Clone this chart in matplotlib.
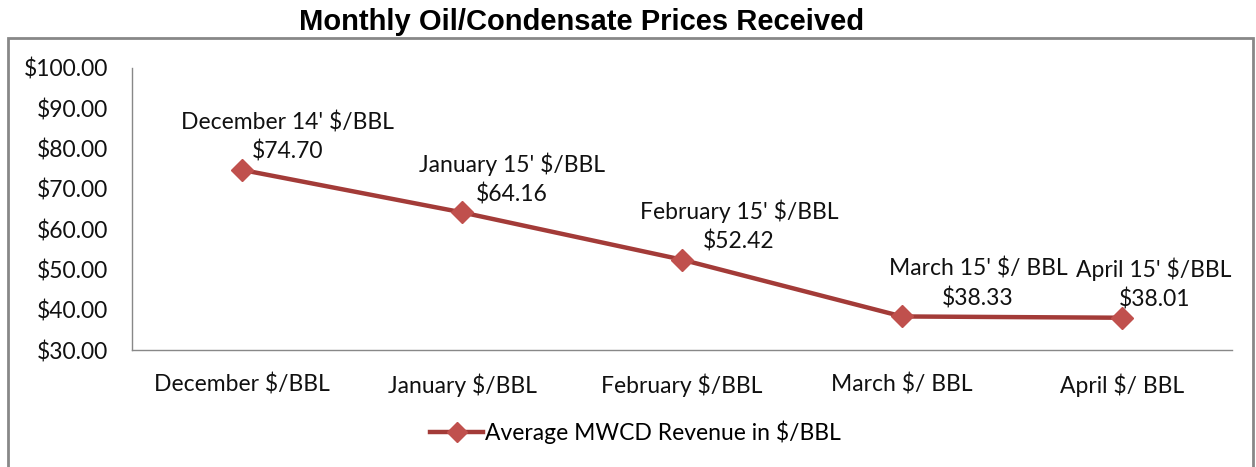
import numpy as np
import matplotlib.pyplot as plt
from matplotlib.patches import Rectangle

#%% Data
months      = ['December $/BBL', 'January $/BBL', 'February $/BBL', 'March $/ BBL', 'April $/ BBL']
point_names = ["December 14' $/BBL", "January 15' $/BBL", "February 15' $/BBL",
               "March 15' $/ BBL", "April 15' $/BBL"]
prices      = [74.70, 64.16, 52.42, 38.33, 38.01]

#### Label offsets (pixels)
label_dx    = [46, 50, 57, 76, 32]

plt.rcParams['font.family'] = ['Lato', 'DejaVu Sans']
FS = 16.5

fig = plt.figure(figsize=(12.56, 4.67), dpi=100)
ax  = fig.add_axes([0.105, 0.2505, 0.876, 0.604])

x = np.arange(len(prices))
ax.plot(x, prices, color='#A33B38', lw=3.2, marker='D', ms=11,
        mfc='#C0504D', mec='#C0504D', label='Average MWCD Revenue in $/BBL')

for i, (name, p) in enumerate(zip(point_names, prices)):
    ax.annotate(f'{name}\n${p:.2f}', (x[i], p), xytext=(label_dx[i], 7),
                textcoords='offset pixels', ha='center', va='bottom',
                fontsize=FS, linespacing=1.42, color='#111111')

ax.set_xlim(-0.5, 4.5)
ax.set_ylim(30, 100)
ax.set_yticks(np.arange(30, 101, 10))
ax.set_yticklabels([f'${v:.2f}' for v in np.arange(30, 101, 10)])
ax.set_xticks(x)
ax.set_xticklabels(months)
ax.tick_params(axis='both', length=0, labelsize=FS, colors='#111111')
ax.tick_params(axis='x', pad=17)
ax.tick_params(axis='y', pad=17)

for s in ['top', 'right']:
    ax.spines[s].set_visible(False)
for s in ['left', 'bottom']:
    ax.spines[s].set_color('#888888')
    ax.spines[s].set_linewidth(1)

ax.legend(loc='center', bbox_to_anchor=(0.458, -0.29), frameon=False,
          fontsize=FS, handlelength=2.3, handletextpad=0.1, markerscale=0.9)

#### Outer frame and title
fig.patches.append(Rectangle((8/1256, -0.05), 1245/1256, 1 - 38/467 + 0.05,
                             transform=fig.transFigure, fill=False,
                             edgecolor='#888888', lw=2))
fig.text(582/1256, 1 - 22/467, 'Monthly Oil/Condensate Prices Received',
         ha='center', va='center', fontsize=21, fontweight='bold',
         family='Liberation Sans')

fig.savefig('out.png', dpi=100)
